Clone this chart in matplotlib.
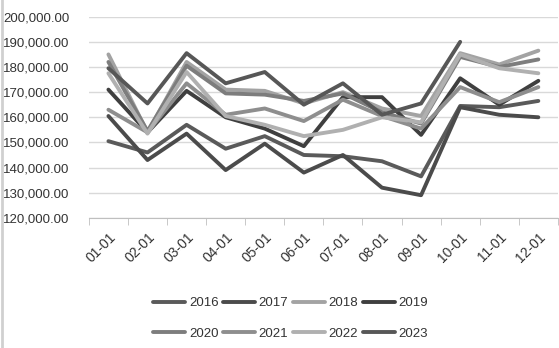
import numpy as np
import matplotlib.pyplot as plt
from matplotlib.ticker import FuncFormatter, FixedLocator
from matplotlib.lines import Line2D

plt.rcParams['font.family'] = ['Liberation Sans', 'DejaVu Sans']

# datos mensuales por año
months = ['01-01', '02-01', '03-01', '04-01', '05-01', '06-01',
          '07-01', '08-01', '09-01', '10-01', '11-01', '12-01']

y2016 = [150500, 146000, 157000, 147500, 152500, 145000, 144500, 142500, 136500, 164500, 164000, 166500]
y2017 = [160500, 143000, 153500, 139000, 149500, 138000, 145000, 132000, 129000, 164000, 161000, 160000]
y2018 = [185000, 154000, 182000, 171000, 170500, 165500, 170000, 163500, 160500, 185500, 181000, 186500]
y2019 = [171000, 154000, 170500, 160000, 155500, 148500, 168000, 168000, 153000, 175500, 165000, 174500]
y2020 = [182000, 154500, 180500, 169500, 169000, 166500, 169500, 162000, 157500, 184000, 180000, 183000]
y2021 = [163000, 154000, 173500, 161000, 163500, 158500, 167000, 160500, 155500, 172000, 166000, 172000]
y2022 = [177500, 153500, 178000, 160500, 157000, 152500, 155000, 160000, 158000, 185000, 179500, 177500]
y2023 = [179500, 165500, 185500, 173500, 178000, 165000, 173500, 161000, 165500, 190000, np.nan, np.nan]

years = ['2016', '2017', '2018', '2019', '2020', '2021', '2022', '2023']
series = [y2016, y2017, y2018, y2019, y2020, y2021, y2022, y2023]
colors = ['#5a5a5a', '#4b4b4b', '#a3a3a3', '#3f3f3f', '#7d7d7d', '#8e8e8e', '#b0b0b0', '#575757']

fig = plt.figure(figsize=(5.59, 3.48), dpi=100)
ax = fig.add_axes([0.159, 0.374, 0.839, 0.578])

x = np.arange(len(months))
for name, vals, c in zip(years, series, colors):
    ax.plot(x, vals, color=c, lw=2.8, label=name, solid_capstyle='round')

ax.set_xlim(-0.5, len(months) - 0.5)
ax.set_ylim(120000, 200000)
ax.set_yticks(np.arange(120000, 200001, 10000))
ax.yaxis.set_major_formatter(FuncFormatter(lambda v, p: f'{v:,.2f}'))
ax.grid(axis='y', color='#d9d9d9', lw=1)
ax.set_axisbelow(True)

ax.set_xticks(x)
ax.set_xticklabels(months, rotation=45, ha='right', rotation_mode='anchor')
ax.xaxis.set_minor_locator(FixedLocator(np.arange(-0.5, len(months), 1)))
ax.tick_params(axis='x', which='major', length=0, pad=9, labelsize=10, colors='#333333')
ax.tick_params(axis='x', which='minor', length=5, color='#bfbfbf', direction='out')
ax.tick_params(axis='y', length=0, pad=14, labelsize=9.5, colors='#333333')

for s in ['top', 'right', 'left']:
    ax.spines[s].set_visible(False)
ax.spines['bottom'].set_color('#bfbfbf')

# leyenda por filas: 2016-2019 arriba, 2020-2023 abajo
handles, labels = ax.get_legend_handles_labels()
order = [0, 4, 1, 5, 2, 6, 3, 7]
fig.legend([handles[i] for i in order], [labels[i] for i in order],
           loc='center', bbox_to_anchor=(0.52, 0.085), ncol=4, frameon=False,
           fontsize=9.5, handlelength=2.4, handletextpad=0.3, columnspacing=0.35,
           labelspacing=1.4, labelcolor='#333333')

# borde izquierdo del área del gráfico
fig.add_artist(Line2D([0.003, 0.003], [0, 1], transform=fig.transFigure,
                      color='#d0d0d0', lw=2))

fig.savefig('out.png', dpi=100)
